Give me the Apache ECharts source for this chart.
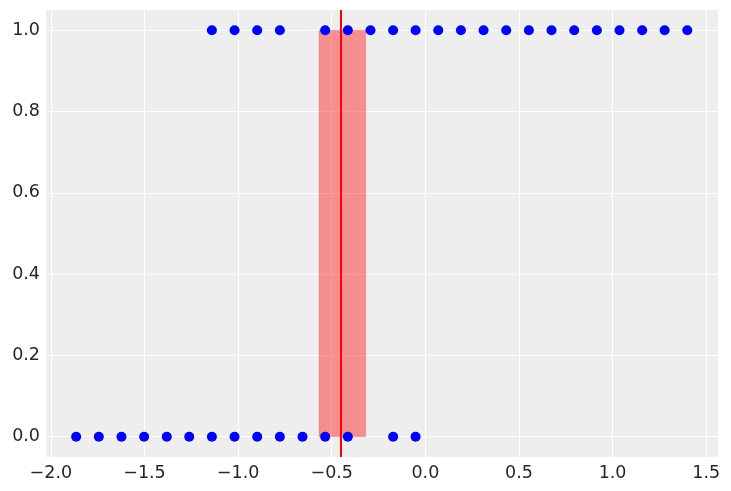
<!DOCTYPE html>
<html>
<head>
<meta charset="utf-8">
<script src="https://cdn.jsdelivr.net/npm/echarts@6/dist/echarts.min.js"></script>
<style>html,body{margin:0;padding:0;background:#fff}#c{width:731px;height:491px}</style>
</head>
<body>
<div id="c"></div>
<script>
// x positions of observations with outcome 0
var xZero = [-1.865, -1.744, -1.623, -1.502, -1.381, -1.261, -1.140, -1.019, -0.898, -0.777, -0.656, -0.535, -0.414, -0.172, -0.052];
// x positions of observations with outcome 1
var xOne = [-1.140, -1.019, -0.898, -0.777, -0.535, -0.414, -0.293, -0.172, -0.052, 0.069, 0.190, 0.311, 0.432, 0.553, 0.674, 0.795, 0.916, 1.037, 1.158, 1.278, 1.399];
// decision boundary interval and mean
var bandLo = -0.568;
var bandHi = -0.318;
var boundaryX = -0.452;
var xRange = [-2.026, 1.563];
var yRange = [-0.05, 1.05];

function fmt(v) {
  return (v < 0 ? '\u2212' : '') + Math.abs(v).toFixed(1);
}

var chart = echarts.init(document.getElementById('c'));
var labelStyle = {color: '#262626', fontSize: 17.5, fontFamily: 'DejaVu Sans'};
chart.setOption({
  animation: false,
  backgroundColor: '#ffffff',
  grid: {left: 46, top: 10, width: 672, height: 447, show: true, backgroundColor: '#eeeeee', borderWidth: 0},
  xAxis: {
    type: 'value', min: xRange[0], max: xRange[1], splitNumber: 7,
    axisLine: {show: false}, axisTick: {show: false},
    axisLabel: Object.assign({formatter: fmt, showMinLabel: false, showMaxLabel: false, margin: 7}, labelStyle),
    splitLine: {show: true, showMinLine: false, showMaxLine: false, lineStyle: {color: '#ffffff', width: 1}}
  },
  yAxis: {
    type: 'value', min: yRange[0], max: yRange[1], splitNumber: 5,
    axisLine: {show: false}, axisTick: {show: false},
    axisLabel: Object.assign({formatter: fmt, showMinLabel: false, showMaxLabel: false, margin: 6}, labelStyle),
    splitLine: {show: true, showMinLine: false, showMaxLine: false, lineStyle: {color: '#ffffff', width: 1}}
  },
  series: [
    {
      type: 'scatter', z: 2, symbolSize: 10,
      itemStyle: {color: '#0000ff', opacity: 1},
      data: xZero.map(function (x) { return [x, 0]; })
    },
    {
      type: 'scatter', z: 2, symbolSize: 10,
      itemStyle: {color: '#0000ff', opacity: 1},
      data: xOne.map(function (x) { return [x, 1]; })
    },
    {
      type: 'line', z: 3, data: [], silent: true,
      markArea: {
        silent: true,
        itemStyle: {color: 'rgba(255,0,0,0.4)', borderColor: 'rgba(255,0,0,0.15)', borderWidth: 1},
        data: [[{xAxis: bandLo, yAxis: 0}, {xAxis: bandHi, yAxis: 1}]]
      }
    },
    {
      type: 'line', z: 4, data: [], silent: true,
      markLine: {
        silent: true, symbol: 'none', label: {show: false},
        lineStyle: {color: '#ff0000', width: 2, type: 'solid'},
        data: [{xAxis: boundaryX}]
      }
    }
  ]
});
</script>
</body>
</html>
